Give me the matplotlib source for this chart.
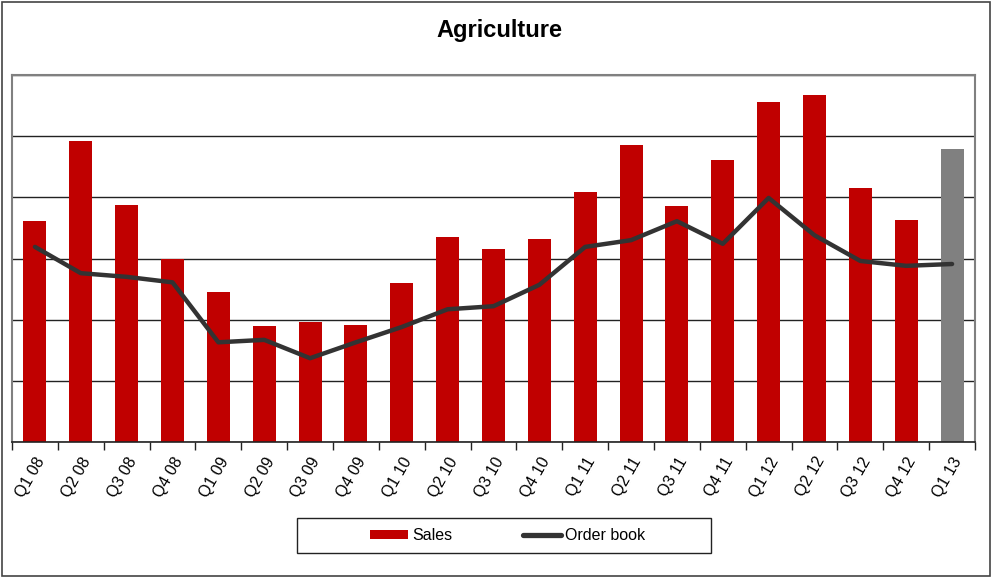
import matplotlib
matplotlib.use("Agg")
import matplotlib.pyplot as plt
import numpy as np
from matplotlib.patches import Rectangle
from matplotlib.lines import Line2D
from matplotlib.patches import Patch

quarters = ["Q1 08", "Q2 08", "Q3 08", "Q4 08", "Q1 09", "Q2 09", "Q3 09", "Q4 09",
            "Q1 10", "Q2 10", "Q3 10", "Q4 10", "Q1 11", "Q2 11", "Q3 11", "Q4 11",
            "Q1 12", "Q2 12", "Q3 12", "Q4 12", "Q1 13"]
sales = [3.61, 4.92, 3.87, 2.99, 2.45, 1.90, 1.96, 1.91, 2.60, 3.35, 3.15, 3.32,
         4.08, 4.85, 3.86, 4.61, 5.56, 5.67, 4.15, 3.63, 4.79]
order_book = [3.19, 2.76, 2.70, 2.61, 1.63, 1.67, 1.37, 1.63, 1.88, 2.17, 2.22, 2.57,
              3.19, 3.30, 3.61, 3.24, 3.99, 3.38, 2.96, 2.88, 2.91]

W, H = 992, 577
fig = plt.figure(figsize=(W / 100, H / 100), dpi=100)
ax = fig.add_axes([12 / W, 1 - 442 / H, (975 - 12) / W, (442 - 75) / H])

x = np.arange(len(quarters))
colors = ["#C00000"] * (len(quarters) - 1) + ["#808080"]
ax.bar(x, sales, width=0.5, color=colors, zorder=2)
ax.plot(x, order_book, color="#333333", lw=3.2, zorder=3,
        solid_joinstyle="round", solid_capstyle="round")

ax.set_xlim(-0.5, len(quarters) - 0.5)
ax.set_ylim(0, 6)
ax.set_yticks(np.arange(0, 7, 1))
ax.yaxis.grid(True, color="#222222", lw=1)
ax.set_axisbelow(True)
ax.tick_params(axis="y", left=False, labelleft=False)

ax.set_xticks(x)
ax.set_xticklabels(quarters, rotation=60, ha="right", rotation_mode="anchor", fontsize=11.5,
                   family="Liberation Sans")
ax.tick_params(axis="x", which="major", length=0, pad=9)
ax.set_xticks(np.arange(-0.5, len(quarters), 1), minor=True)
ax.tick_params(axis="x", which="minor", length=6, width=1, color="#222222", direction="out")

for s in ["top", "right", "left"]:
    ax.spines[s].set_color("#808080")
    ax.spines[s].set_linewidth(1.5)
ax.spines["bottom"].set_color("#222222")
ax.spines["bottom"].set_linewidth(1.2)

fig.text(499 / W, 1 - 31 / H, "Agriculture", ha="center", va="center", fontsize=17,
         fontweight="bold", family="Liberation Sans")

handles = [Patch(facecolor="#C00000", edgecolor="none"),
           Line2D([], [], color="#333333", lw=3.8, solid_capstyle="round")]
leg = fig.legend(handles, ["Sales", "Order book"], loc="center",
                 bbox_to_anchor=(507.5 / W, 1 - 535.5 / H), ncol=2,
                 frameon=False,
                 prop={"family": "Liberation Sans", "size": 11.5},
                 handlelength=2.4, handleheight=0.5, handletextpad=0.25, columnspacing=4.4,
                 borderpad=0, borderaxespad=0)

# legend box
fig.patches.append(Rectangle((297 / W, 1 - 553 / H), (711 - 297) / W, (553 - 518) / H,
                             transform=fig.transFigure, fill=False,
                             edgecolor="#222222", lw=1))
# outer chart border
fig.patches.append(Rectangle((2 / W, 1.5 / H), (990 - 2) / W, (575 - 1.5) / H,
                             transform=fig.transFigure, fill=False,
                             edgecolor="#444444", lw=1.2))

fig.savefig("out.png", dpi=100)
